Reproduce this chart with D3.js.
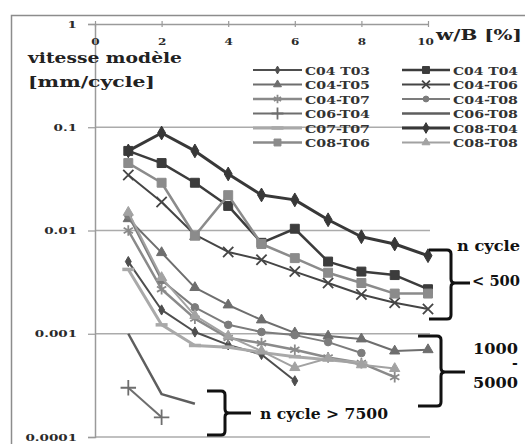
<!DOCTYPE html>
<html><head><meta charset="utf-8">
<script src="https://cdn.jsdelivr.net/npm/d3@7"></script>
<style>body{margin:0;background:#fff;overflow:hidden}</style>
</head><body><svg id="c" width="525" height="444"></svg>
<script>
// ---------- data ----------
const xTicks = [0, 2, 4, 6, 8, 10];
const yTicks = [1, 0.1, 0.01, 0.001, 0.0001];
const yTickLabels = ["1", "0.1", "0.01", "0.001", "0.0001"];
const xVals = [1, 2, 3, 4, 5, 6, 7, 8, 9, 10];

const seriesNames = ["C04 T03", "C04 T04", "C04-T05", "C04-T06", "C04-T07", "C04-T08",
                     "C06-T04", "C06-T08", "C07-T07", "C08-T04", "C08-T06", "C08-T08"];
const C04_T03 = [0.005, 0.0017, 0.00104, 0.00078, 0.00063, 0.00035];
const C04_T04 = [0.059, 0.045, 0.029, 0.0173, 0.0076, 0.0104, 0.0050, 0.0040, 0.0037, 0.0027];
const C04_T05 = [0.013, 0.0061, 0.0028, 0.0019, 0.00136, 0.00102, 0.00095, 0.00089, 0.00068, 0.0007];
const C04_T06 = [0.0345, 0.0189, 0.0091, 0.0062, 0.0052, 0.0040, 0.0031, 0.0024, 0.0020, 0.00174];
const C04_T07 = [0.0100, 0.0027, 0.0014, 0.00091, 0.00081, 0.0007, 0.00059, 0.00052, 0.00038];
const C04_T08 = [0.014, 0.0033, 0.0018, 0.00122, 0.00104, 0.00097, 0.00083, 0.00065];
const C06_T04 = [0.0003, 0.000155];
const C06_T08 = [0.001, 0.00026, 0.00021];
const C07_T07 = [0.0042, 0.00122, 0.00077, 0.00074, 0.00066, 0.0006, 0.00056, 0.00052];
const C08_T04 = [0.059, 0.088, 0.059, 0.0353, 0.0221, 0.0198, 0.0127, 0.0087, 0.0074, 0.0057];
const C08_T06 = [0.045, 0.029, 0.0089, 0.022, 0.0074, 0.0054, 0.0039, 0.0031, 0.00245, 0.00245];
const C08_T08 = [0.015, 0.0035, 0.0015, 0.00095, 0.00068, 0.00047, 0.00058, 0.0005, 0.00046];

const seriesValues = [C04_T03, C04_T04, C04_T05, C04_T06, C04_T07, C04_T08,
                      C06_T04, C06_T08, C07_T07, C08_T04, C08_T06, C08_T08];

// ---------- styles ----------
const styles = [
  {c:"#4e4e4e", w:2,   m:"diamond", s:30},
  {c:"#3c3c3c", w:2.5, m:"square",  s:80},
  {c:"#6e6e6e", w:2,   m:"triangle",s:45},
  {c:"#454545", w:2,   m:"times",   s:70},
  {c:"#8a8a8a", w:2.5, m:"asterisk",s:80},
  {c:"#7c7c7c", w:2,   m:"circle",  s:45},
  {c:"#6e6e6e", w:2,   m:"plus",    s:80},
  {c:"#5e5e5e", w:2.5, m:"none",    s:0},
  {c:"#a9a9a9", w:3,   m:"dash",    s:0},
  {c:"#383838", w:3,   m:"diamond", s:55},
  {c:"#8b8b8b", w:2.5, m:"square",  s:80},
  {c:"#a2a2a2", w:2,   m:"triangle",s:45}
];

const svg = d3.select("#c");
const FONT = "'DejaVu Serif', serif";
const x = d3.scaleLinear().domain([0, 10]).range([95, 428]);
const y = d3.scaleLog().domain([0.0001, 1]).range([437, 24]);

// outer frame
svg.append("rect").attr("x", 11.5).attr("y", 15.5).attr("width", 540).attr("height", 450)
  .attr("fill", "none").attr("stroke", "#8c8c8c").attr("stroke-width", 1.5);

// gridlines
svg.append("g").selectAll("line").data([0.1, 0.01, 0.001, 0.0001]).join("line")
  .attr("x1", x(0)).attr("x2", 430).attr("y1", d => y(d)).attr("y2", d => y(d))
  .attr("stroke", "#ababab").attr("stroke-width", 1.5);

// y axis
const SX = 1.35;
const yAxis = svg.append("g").attr("transform", `translate(${x(0)},0)`)
  .call(d3.axisLeft(y).tickValues(yTicks).tickSize(7).tickPadding(11)
        .tickFormat((d, i) => yTickLabels[i]));
yAxis.select(".domain").attr("stroke", "#9a9a9a").attr("stroke-width", 1.5);
yAxis.selectAll(".tick line").attr("stroke", "#9a9a9a").attr("stroke-width", 1.2);
yAxis.selectAll("text").attr("font-family", FONT).attr("font-weight", "bold")
  .attr("font-size", 10).attr("fill", "#2a2a2a")
  .attr("x", -18 / SX).attr("transform", `scale(${SX},1)`);

// x axis (top)
const SXX = 1.2;
const xAxis = svg.append("g").attr("transform", `translate(0,${y(1)})`)
  .call(d3.axisBottom(x).tickValues(xTicks).tickSize(3).tickPadding(11).tickSizeOuter(0));
xAxis.select(".domain").attr("stroke", "#9a9a9a").attr("stroke-width", 1.5);
xAxis.selectAll(".tick line").attr("stroke", "#9a9a9a").attr("stroke-width", 1.2).attr("y1", -3);
xAxis.selectAll("text").attr("font-family", FONT).attr("font-weight", "bold")
  .attr("font-size", 10).attr("fill", "#2a2a2a").attr("transform", `scale(${SXX},1)`)
  .attr("x", d => d === 10 ? -3 / SXX : 0);

// text helper
function label(txt, x0, yb, size, width, anchor) {
  const t = svg.append("text").attr("x", x0).attr("y", yb).text(txt)
    .attr("font-family", FONT).attr("font-weight", "bold").attr("font-size", size)
    .attr("fill", "#222").attr("text-anchor", anchor || "start");
  if (width) t.attr("textLength", width).attr("lengthAdjust", "spacingAndGlyphs");
  return t;
}
label("w/B [%]", 436, 40, 14, 86);
label("vitesse modèle", 28, 63, 14, 154);
label("[mm/cycle]", 28, 87, 14, 127);

// markers
function symPath(type, size) {
  const map = {diamond: d3.symbolDiamond, square: d3.symbolSquare, triangle: d3.symbolTriangle,
               circle: d3.symbolCircle, times: d3.symbolTimes || d3.symbolCross,
               asterisk: d3.symbolAsterisk || d3.symbolStar, plus: d3.symbolPlus || d3.symbolCross};
  return d3.symbol().type(map[type]).size(size)();
}
const strokeMarkers = new Set(["times", "asterisk", "plus"]);
function drawMarker(g, type, size, col, cx, cy) {
  if (type === "none") return;
  if (type === "dash") {
    g.append("line").attr("x1", cx - 6).attr("x2", cx + 6).attr("y1", cy).attr("y2", cy)
      .attr("stroke", col).attr("stroke-width", 3.5);
    return;
  }
  const p = g.append("path").attr("d", symPath(type, size))
    .attr("transform", `translate(${cx},${cy})`);
  if (strokeMarkers.has(type)) p.attr("fill", "none").attr("stroke", col).attr("stroke-width", 1.8);
  else p.attr("fill", col).attr("stroke", col).attr("stroke-width", 1);
}

// legend
const legRows = [70, 84.5, 99, 113.5, 128, 142.5];
seriesNames.forEach((nm, i) => {
  const col = i % 2, row = Math.floor(i / 2), st = styles[i];
  const x0 = col ? 402 : 253, x1 = col ? 450 : 302, ly = legRows[row];
  const g = svg.append("g");
  g.append("line").attr("x1", x0).attr("x2", x1).attr("y1", ly).attr("y2", ly)
    .attr("stroke", st.c).attr("stroke-width", st.w);
  drawMarker(g, st.m, st.s * 0.6, st.c, (x0 + x1) / 2, ly);
  label(nm, col ? 453 : 305, ly + 4.5, 11, 65).attr("fill", "#333");
});

// series
const line = d3.line().x((d, i) => x(xVals[i])).y(d => y(d));
seriesValues.forEach((vals, i) => {
  const st = styles[i];
  const g = svg.append("g");
  g.append("path").attr("d", line(vals)).attr("fill", "none")
    .attr("stroke", st.c).attr("stroke-width", st.w).attr("stroke-linejoin", "round");
  vals.forEach((v, j) => drawMarker(g, st.m, st.s, st.c, x(xVals[j]), y(v)));
});

// braces
function brace(xl, yt, yb, xv, ym, xt) {
  const r = 4;
  const d = `M${xl},${yt} L${xv - r},${yt} Q${xv},${yt} ${xv},${yt + r} L${xv},${ym - r} Q${xv},${ym} ${xv + r},${ym} L${xt},${ym}` +
            ` M${xv + r},${ym} Q${xv},${ym} ${xv},${ym + r} L${xv},${yb - r} Q${xv},${yb} ${xv - r},${yb} L${xl},${yb}`;
  svg.append("path").attr("d", d).attr("fill", "none").attr("stroke", "#111").attr("stroke-width", 3);
}
brace(429, 250, 319, 451, 283, 470);
brace(418, 336, 406, 441, 372, 465);
brace(207, 391, 435, 225, 413, 251);

label("n cycle", 457, 251, 14, 63).attr("fill", "#111");
label("< 500", 472, 286, 14, 48).attr("fill", "#111");
label("1000", 473, 354, 14, 45).attr("fill", "#111");
label("-", 512, 368, 14).attr("fill", "#111");
label("5000", 473, 388, 14, 45).attr("fill", "#111");
label("n cycle > 7500", 260, 419, 14, 128).attr("fill", "#111");
</script></body></html>
